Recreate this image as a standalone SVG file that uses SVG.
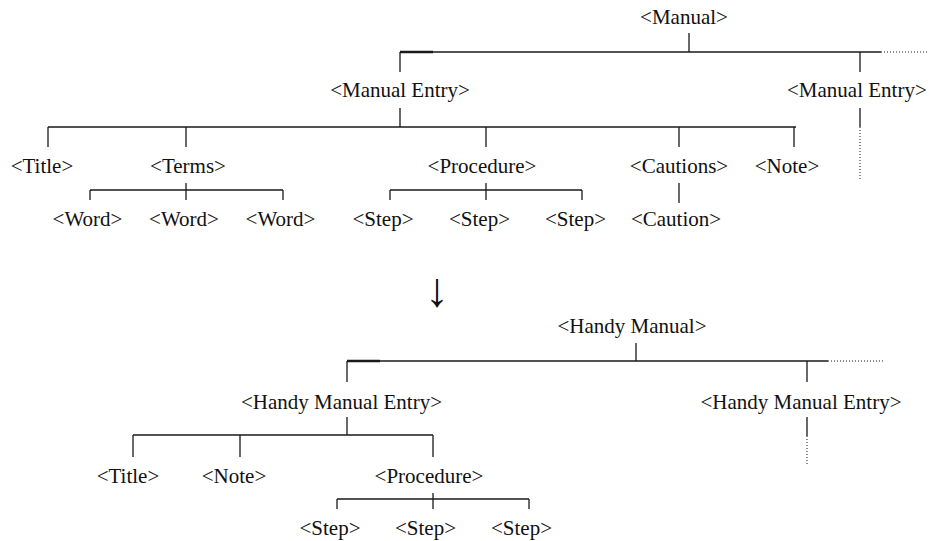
<svg xmlns="http://www.w3.org/2000/svg" width="929" height="541" viewBox="0 0 929 541">
<style>
text{font-family:"Liberation Serif","DejaVu Serif",serif;font-size:21px;fill:#111;text-anchor:middle}
.c path{fill:none;stroke:#1a1a1a;stroke-width:1.3}
.c path.dot{stroke-dasharray:1 2;stroke-width:1}
.c path.thk{stroke-width:2.4}
</style>
<rect width="929" height="541" fill="#fff"/>
<g class="c" id="connectors">
<path d="M689,33V52M400,52H881M400,52V72M860,52V72M400,108V127M860,108V127"/>
<path class="thk" d="M400,52H433"/>
<path class="dot" d="M881,52H929M860,127V180"/>
<path d="M48,127H796M48,127V147M186,127V147M486,127V147M679,127V147M794,127V147"/>
<path d="M186,183V200M90,190H283M90,190V200M283,190V200"/>
<path d="M486,183V200M390,190H582M390,190V200M582,190V200"/>
<path d="M679,183V203"/>
<path d="M636,343V361M347,361H828M347,361V382M807,361V382M347,417V435M807,417V436"/>
<path class="thk" d="M347,361H380"/>
<path class="dot" d="M828,361H883M807,436V464"/>
<path d="M133,435H433M133,435V457M240,435V457M433,435V457"/>
<path d="M433,493V509M337,499H529M337,499V509M529,499V509"/>
</g>
<g id="manual"><text x="684" y="24">&lt;Manual&gt;</text></g>
<g id="entry1"><text x="400" y="97">&lt;Manual Entry&gt;</text></g>
<g id="entry2"><text x="787" y="97" style="text-anchor:start">&lt;Manual Entry&gt;</text></g>
<g id="title1"><text x="42" y="173">&lt;Title&gt;</text></g>
<g id="terms"><text x="188" y="173">&lt;Terms&gt;</text></g>
<g id="procedure1"><text x="482" y="173">&lt;Procedure&gt;</text></g>
<g id="cautions"><text x="679" y="173">&lt;Cautions&gt;</text></g>
<g id="note1"><text x="787" y="173">&lt;Note&gt;</text></g>
<g id="word1"><text x="87.5" y="226">&lt;Word&gt;</text></g>
<g id="word2"><text x="184" y="226">&lt;Word&gt;</text></g>
<g id="word3"><text x="280.5" y="226">&lt;Word&gt;</text></g>
<g id="step1"><text x="383" y="226">&lt;Step&gt;</text></g>
<g id="step2"><text x="479.5" y="226">&lt;Step&gt;</text></g>
<g id="step3"><text x="575.5" y="226">&lt;Step&gt;</text></g>
<g id="caution"><text x="676" y="226">&lt;Caution&gt;</text></g>
<g id="arrow"><text x="437" y="306" style="font-size:48px">↓</text></g>
<g id="handy"><text x="632" y="333">&lt;Handy Manual&gt;</text></g>
<g id="hentry1"><text x="341.5" y="408.5">&lt;Handy Manual Entry&gt;</text></g>
<g id="hentry2"><text x="801" y="408.5">&lt;Handy Manual Entry&gt;</text></g>
<g id="title2"><text x="128" y="483">&lt;Title&gt;</text></g>
<g id="note2"><text x="234" y="483">&lt;Note&gt;</text></g>
<g id="procedure2"><text x="429" y="483">&lt;Procedure&gt;</text></g>
<g id="hstep1"><text x="330" y="535">&lt;Step&gt;</text></g>
<g id="hstep2"><text x="425.5" y="535">&lt;Step&gt;</text></g>
<g id="hstep3"><text x="521.5" y="535">&lt;Step&gt;</text></g>
</svg>
